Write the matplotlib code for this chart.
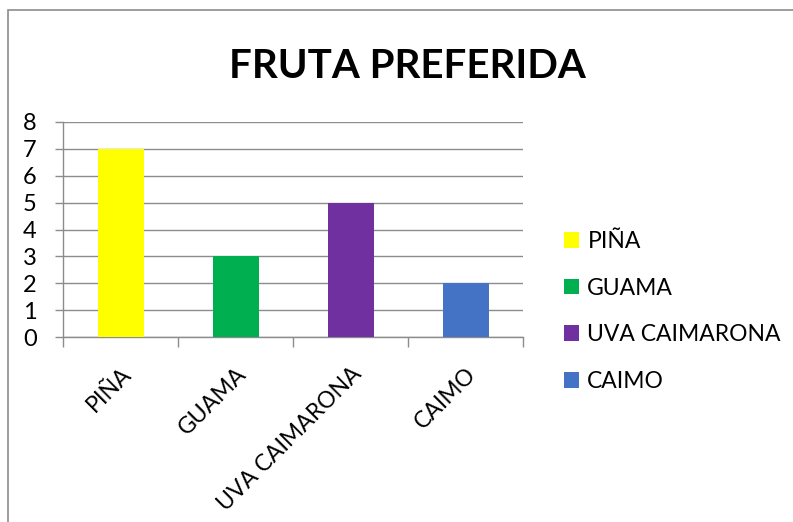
import matplotlib
matplotlib.use("Agg")
import matplotlib.pyplot as plt
from matplotlib.patches import Rectangle

categories = ["PIÑA", "GUAMA", "UVA CAIMARONA", "CAIMO"]
values = [7, 3, 5, 2]
colors = ["#FFFF00", "#00B050", "#7030A0", "#4472C4"]
yticks = [0, 1, 2, 3, 4, 5, 6, 7, 8]
title = "FRUTA PREFERIDA"

plt.rcParams['font.family'] = ['Lato', 'DejaVu Sans']

W, H = 793, 522
fig = plt.figure(figsize=(W / 100, H / 100), dpi=100)

# chart frame
fig.patches.append(Rectangle((8 / W, -0.1), 1.2, 1 - 10 / H + 0.1,
                             transform=fig.transFigure, fill=False,
                             edgecolor="#8c8c8c", linewidth=1.2, clip_on=False))

ax = fig.add_axes([63 / W, 1 - 337 / H, (523 - 63) / W, (337 - 122) / H])
x = list(range(len(categories)))
bars = ax.bar(x, values, width=0.4, color=colors, zorder=3)

ax.set_xlim(-0.5, len(categories) - 0.5)
ax.set_ylim(0, 8)
ax.set_yticks(yticks)
ax.yaxis.grid(True, color="#8c8c8c", linewidth=1.0, zorder=0)
ax.set_axisbelow(True)
for s in ["top", "right"]:
    ax.spines[s].set_visible(False)
for s in ["left", "bottom"]:
    ax.spines[s].set_color("#8c8c8c")
    ax.spines[s].set_linewidth(1.0)

ax.tick_params(axis="y", direction="out", length=6, width=1, color="#8c8c8c",
               labelsize=17, pad=13)
ax.set_xticks(x)
ax.set_xticklabels(categories, rotation=45, ha="right", va="top",
                   rotation_mode="anchor", fontsize=16.5)
ax.tick_params(axis="x", which="major", length=0, pad=19)
ax.set_xticks([i - 0.5 for i in range(len(categories) + 1)], minor=True)
ax.tick_params(axis="x", which="minor", direction="out", length=7, width=1,
               color="#8c8c8c")

fig.text(407 / W, 1 - 78 / H, title, ha="center", va="baseline",
         fontsize=29, fontweight="bold")

fig.legend(bars, categories, loc="center left",
           bbox_to_anchor=(564 / W, 1 - 311.5 / H), frameon=False,
           fontsize=16.5, handlelength=0.67, handleheight=0.67,
           handletextpad=0.35, labelspacing=1.12, borderpad=0,
           borderaxespad=0)

fig.savefig("out.png", dpi=100)
